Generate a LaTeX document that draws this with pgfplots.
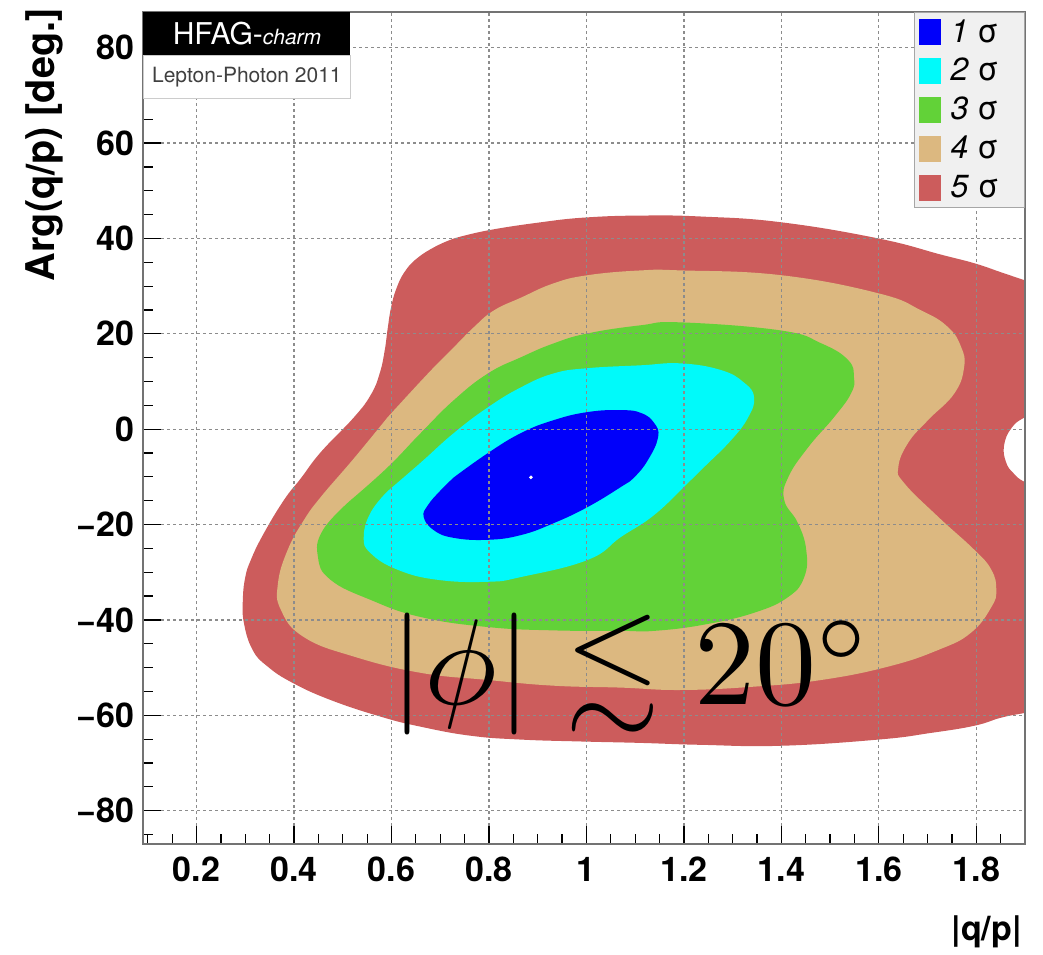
\documentclass[border=0pt]{standalone}
\usepackage{pgfplots}
\pgfplotsset{compat=1.18}
\usepackage{amssymb}
\usepackage{graphicx}
\usepackage{fontspec}
\setmainfont{TeX Gyre Heros}
\definecolor{c1}{RGB}{0,0,250}
\definecolor{c2}{RGB}{0,250,250}
\definecolor{c3}{RGB}{98,210,56}
\definecolor{c4}{RGB}{220,184,128}
\definecolor{c5}{RGB}{204,92,92}
\begin{document}
\begin{tikzpicture}
\begin{axis}[
  name=ax, at={(0,0)}, anchor=south west,
  scale only axis, width=441pt, height=416pt,
  xmin=0.09, xmax=1.9, ymin=-87, ymax=87.5,
  xtick={0,0.2,0.4,0.6,0.8,1,1.2,1.4,1.6,1.8,2},
  ytick={-100,-80,-60,-40,-20,0,20,40,60,80,100},
  minor tick num=3,
  tick pos=left, tick align=inside,
  major tick length=9pt, minor tick length=5pt,
  tick style={black, line width=0.6pt},
  axis line style={black!55, line width=0.6pt},
  xmajorgrids, ymajorgrids,
  major grid style={black!45, dash pattern=on 1.5pt off 1.5pt, line width=0.6pt},
  axis on top,
  tick label style={font=\fontsize{17}{17}\selectfont\bfseries},
  /pgf/number format/assume math mode=true,
  xticklabel style={yshift=-3pt},
  yticklabel style={xshift=-1pt},
  yticklabel={\pgfmathparse{abs(\tick)}\ifdim\tick pt<0pt\relax −\fi\pgfmathprintnumber{\pgfmathresult}},
  legend cell align=left,
  legend style={at={(rel axis cs:1,1)}, anchor=north east, draw=gray!70, fill=gray!12,
    font=\fontsize{16}{16}\selectfont, inner xsep=2pt, inner ysep=3.5pt,
    row sep=6.5pt, column sep=5pt, nodes={inner sep=0pt}},
  legend image code/.code={\fill[#1] (0pt,-6.25pt) rectangle (10.5pt,6.25pt);},
]
\addlegendimage{c1}
\addlegendentry{\makebox[35pt][l]{\textit{1} σ}}
\addlegendimage{c2}
\addlegendentry{\makebox[35pt][l]{\textit{2} σ}}
\addlegendimage{c3}
\addlegendentry{\makebox[35pt][l]{\textit{3} σ}}
\addlegendimage{c4}
\addlegendentry{\makebox[35pt][l]{\textit{4} σ}}
\addlegendimage{c5}
\addlegendentry{\makebox[35pt][l]{\textit{5} σ}}
% 5 sigma
\addplot[fill=c5, draw=none, smooth, tension=0.75, forget plot] coordinates {
(0.728,40.0) (0.798,41.7) (0.907,43.4) (0.999,44.4) (1.112,44.8) (1.235,44.6) (1.399,43.4) (1.599,40.0) (1.728,36.6) (1.796,34.8) (1.851,32.9) (1.9,31.2) (1.95,29.5) (1.95,4.5) (1.9,2.5) (1.872,0.2) (1.857,-3.4) (1.861,-6.9) (1.876,-9.2) (1.9,-11.1) (1.95,-13) (1.95,-58.5) (1.9,-59.5) (1.851,-60.5) (1.796,-62.2) (1.707,-63.7) (1.599,-65.1) (1.399,-66.4) (1.235,-66.2) (1.112,-65.8) (0.989,-65.5) (0.866,-65.1) (0.763,-64.3) (0.660,-62.4) (0.578,-60.3) (0.475,-56.8) (0.397,-53.2) (0.346,-49.8) (0.315,-46.3) (0.297,-40.6) (0.295,-35.5) (0.300,-31) (0.311,-27.5) (0.336,-22.2) (0.379,-14.9) (0.414,-10.3) (0.455,-4.8) (0.523,2.5) (0.558,7.3) (0.576,11.8) (0.586,16.5) (0.592,21.0) (0.599,25.5) (0.610,29.5) (0.627,33.0) (0.652,35.8) (0.690,38.3) (0.728,40.0)};
% 4 sigma
\addplot[fill=c4, draw=none, smooth, tension=0.75, forget plot] coordinates {
(0.592,2.5) (0.675,11.7) (0.728,17.2) (0.769,21.4) (0.810,24.9) (0.866,27.6) (0.933,30.6) (1.003,32.3) (1.112,33.3) (1.194,33.3) (1.399,32.3) (1.599,28.5) (1.687,24.9) (1.742,21.4) (1.769,17.2) (1.775,13.0) (1.755,7.5) (1.701,1.9) (1.660,-2.9) (1.640,-8.0) (1.652,-11.3) (1.722,-18.4) (1.796,-25.3) (1.831,-29.5) (1.841,-33.7) (1.831,-37.3) (1.789,-42.7) (1.722,-46.3) (1.619,-49.8) (1.482,-52.6) (1.344,-54.0) (1.194,-54.7) (1.071,-54.2) (0.933,-53.8) (0.798,-52.6) (0.660,-51.1) (0.523,-47.7) (0.420,-43.6) (0.373,-37.9) (0.367,-32.3) (0.387,-25.3) (0.420,-19.1) (0.455,-14.2) (0.523,-6.1) (0.592,2.5)};
% 3 sigma
\addplot[fill=c3, draw=none, smooth, tension=0.75, forget plot] coordinates {
(0.516,-14.9) (0.592,-8.0) (0.660,-0.8) (0.728,6.1) (0.798,11.7) (0.866,15.1) (0.933,18.0) (1.003,20.1) (1.112,21.8) (1.194,22.4) (1.399,20.7) (1.482,18.0) (1.537,14.5) (1.549,10.9) (1.543,7.5) (1.508,2.5) (1.455,-3.8) (1.414,-10.1) (1.406,-14.9) (1.434,-19.7) (1.451,-25.3) (1.447,-31.0) (1.414,-35.2) (1.344,-38.5) (1.241,-41.0) (1.139,-42.3) (1.071,-42.3) (0.933,-42.2) (0.798,-41.5) (0.660,-39.4) (0.557,-35.8) (0.475,-31.6) (0.449,-26.8) (0.459,-21.2) (0.516,-14.9)};
% 2 sigma
\addplot[fill=c2, draw=none, smooth, tension=0.75, forget plot] coordinates {
(0.592,-13.0) (0.660,-7.0) (0.728,-0.8) (0.798,4.6) (0.866,8.8) (0.933,11.7) (1.003,12.8) (1.112,13.4) (1.194,13.8) (1.276,12.4) (1.323,9.8) (1.344,6.7) (1.332,2.5) (1.297,-2.3) (1.241,-8.0) (1.208,-11.3) (1.139,-18.0) (1.071,-22.6) (1.003,-27.4) (0.866,-31.0) (0.798,-32.0) (0.695,-31.6) (0.613,-29.5) (0.557,-26.0) (0.543,-22.6) (0.557,-17.5) (0.592,-13.0)};
% 1 sigma
\addplot[fill=c1, draw=none, smooth, tension=0.75, forget plot] coordinates {
(0.728,-10.1) (0.798,-5.0) (0.866,-0.8) (0.933,1.9) (1.003,3.6) (1.071,4.0) (1.112,3.4) (1.139,1.3) (1.147,-1.7) (1.126,-6.5) (1.098,-10.1) (1.071,-12.1) (1.003,-16.3) (0.933,-19.7) (0.866,-22.2) (0.798,-23.2) (0.728,-22.8) (0.687,-21.2) (0.666,-18.4) (0.675,-15.9) (0.701,-12.8) (0.728,-10.1)};
\addplot[only marks, mark=*, mark size=0.7pt, white, forget plot] coordinates {(0.886,-10.1)};
\coordinate (phi) at (axis cs:0.598,-57.8);
\end{axis}
% HFAG boxes
\node[fill=black, anchor=north west, minimum width=103.5pt, minimum height=21.5pt, inner sep=0pt, text=white]
  at (0pt,416pt) {\fontsize{15}{15}\selectfont HFAG-{\fontsize{10.5}{10.5}\selectfont\itshape charm}};
\node[fill=white, draw=gray!40, anchor=north west, minimum width=103.5pt, minimum height=21.5pt, inner sep=0pt, text=black!75]
  at (0pt,394.5pt) {\fontsize{10.5}{10.5}\selectfont Lepton-Photon 2011};
% axis labels
\node[rotate=90, anchor=north east, inner sep=0pt, font=\fontsize{19.8}{19.8}\selectfont\bfseries] at (-59pt,418pt) {Arg(q/p) [deg.]};
\node[anchor=north east, inner sep=0pt, font=\fontsize{17}{17}\selectfont\bfseries] at (439.5pt,-35.5pt) {|q/p|};
% big formula
\node[anchor=base west, inner sep=0pt] at (phi) {\scalebox{6.1}{$|\phi|\lesssim 20^\circ$}};
\pgfresetboundingbox
\path (-71.5pt,-55pt) rectangle (450pt,422pt);
\end{tikzpicture}
\end{document}
